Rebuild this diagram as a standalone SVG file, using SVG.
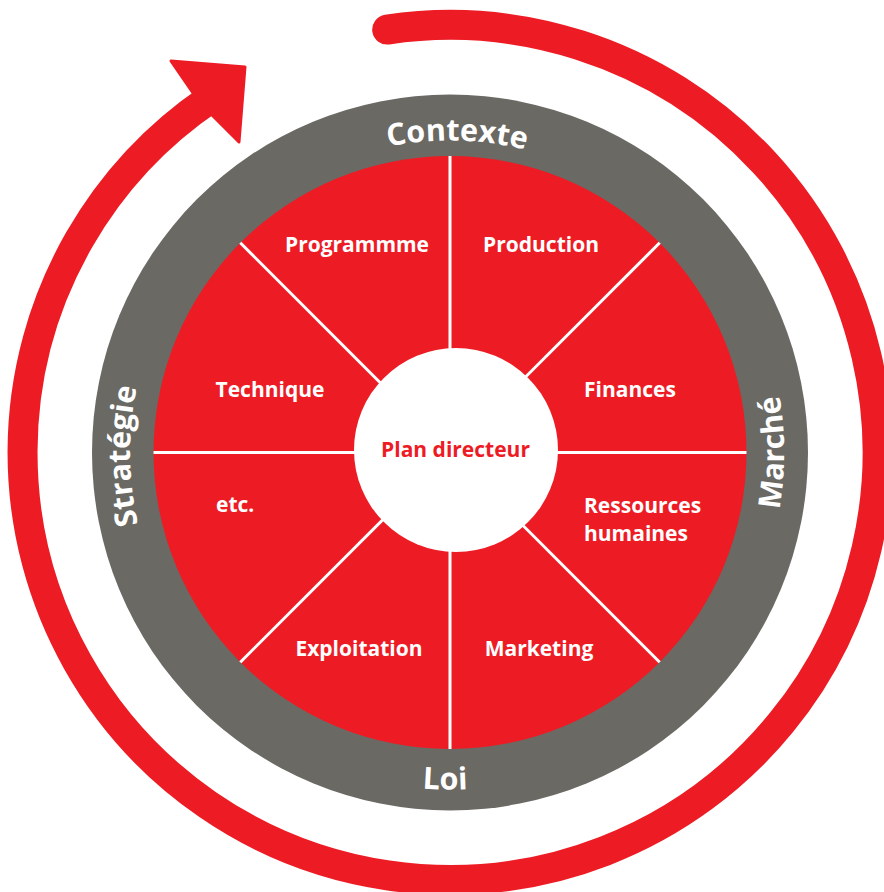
<svg xmlns="http://www.w3.org/2000/svg" width="884" height="892" viewBox="0 0 884 892">
<style>
.lbl{font-family:"Open Sans","Liberation Sans",sans-serif;font-weight:bold;font-size:21px;fill:#ffffff}
.ring{font-family:"Open Sans","Liberation Sans",sans-serif;font-weight:bold;font-size:30.5px;fill:#ffffff}
.mid{text-anchor:middle}
.div{stroke:#ffffff;stroke-width:3}
</style>
<defs>
<path id="pCtx" d="M183.4,290.4 A312,312 0 0,1 723.7,302.7"/>
<path id="pStr" d="M292.9,731.3 A320,320 0 0,1 287.1,177.1"/>
<path id="pMar" d="M617,741.8 A334,334 0 0,0 617,163.2"/>
<path id="pLoi" d="M155.7,616.7 A337,337 0 0,0 739.3,625.3"/>
</defs>
<rect width="884" height="892" fill="#ffffff"/>
<g id="cycle-arrow">
<path d="M387.2,29.6 A427.5,427.5 0 1,1 210.9,98.1" fill="none" stroke="#ED1C24" stroke-width="30" stroke-linecap="round"/>
<polygon points="245,67 171,61 193,93 212,115 239,142" fill="#ED1C24" stroke="#ED1C24" stroke-width="3" stroke-linejoin="round"/>
</g>
<g id="ring">
<circle cx="450" cy="452.5" r="358" fill="#6B6964"/>
<text class="ring mid"><textPath href="#pCtx" startOffset="50%">Contexte</textPath></text>
<text class="ring mid"><textPath href="#pStr" startOffset="50%">Stratégie</textPath></text>
<text class="ring mid"><textPath href="#pMar" startOffset="50%">Marché</textPath></text>
<text class="ring mid"><textPath href="#pLoi" startOffset="50%">Loi</textPath></text>
</g>
<g id="disk">
<circle cx="450" cy="452.5" r="296.5" fill="#ED1C24"/>
</g>
<g id="connectors">
<line class="div" x1="153.5" y1="452.5" x2="746.5" y2="452.5"/>
<line class="div" x1="450" y1="156" x2="450" y2="749"/>
<line class="div" x1="240.3" y1="242.8" x2="659.7" y2="662.2"/>
<line class="div" x1="659.7" y1="242.8" x2="240.3" y2="662.2"/>
</g>
<g id="node-programme"><text class="lbl mid" x="357" y="252">Programmme</text></g>
<g id="node-production"><text class="lbl mid" x="541" y="252">Production</text></g>
<g id="node-technique"><text class="lbl mid" x="270" y="397">Technique</text></g>
<g id="node-finances"><text class="lbl mid" x="630" y="397">Finances</text></g>
<g id="node-etc"><text class="lbl" x="216" y="512">etc.</text></g>
<g id="node-rh"><text class="lbl" x="584" y="513">Ressources</text><text class="lbl" x="584" y="541">humaines</text></g>
<g id="node-exploitation"><text class="lbl mid" x="359" y="656">Exploitation</text></g>
<g id="node-marketing"><text class="lbl mid" x="539" y="656">Marketing</text></g>
<g id="node-plan">
<circle cx="456" cy="450" r="102" fill="#ffffff"/>
<text class="lbl mid" x="455.5" y="457" style="fill:#ED1C24">Plan directeur</text>
</g>
</svg>
